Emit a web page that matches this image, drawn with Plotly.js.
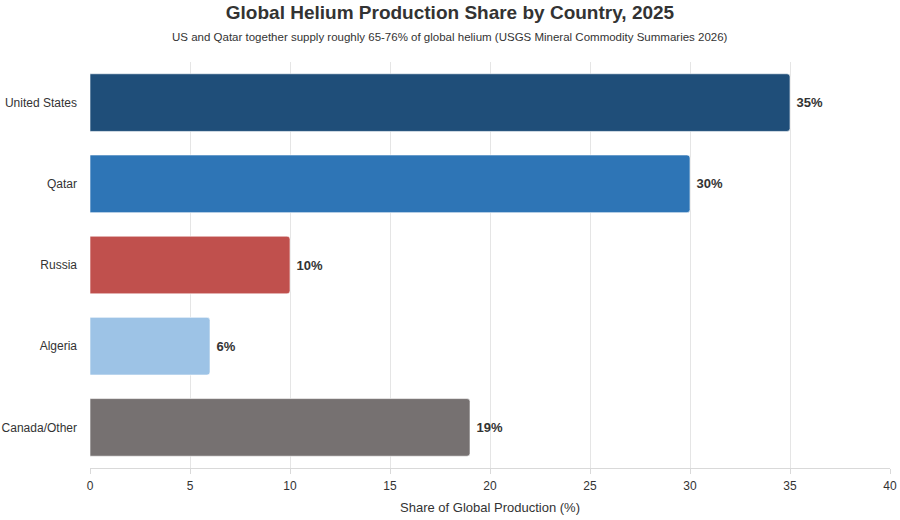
<!DOCTYPE html>
<html>
<head>
<meta charset="utf-8">
<script src="https://cdn.plot.ly/plotly-3.0.1.min.js"></script>
<style>
  html, body { margin: 0; padding: 0; background: #fff; }
  #chart { width: 900px; height: 520px; }
</style>
</head>
<body>
<div id="chart"></div>
<script>
// share of global helium production, percent
var countries = ["United States", "Qatar", "Russia", "Algeria", "Canada/Other"];
var shares = [35, 30, 10, 6, 19];
var barColors = ["#1f4e79", "#2e75b6", "#c0504d", "#9dc3e6", "#767171"];

var labels = [];
for (var i = 0; i < shares.length; i++) {
    labels.push("\u00a0" + shares[i] + "%");
}

var trace = {
    type: "bar",
    orientation: "h",
    x: shares,
    y: countries,
    text: labels,
    textposition: "outside",
    cliponaxis: false,
    textfont: { family: "Liberation Sans, Arial, sans-serif", size: 13, color: "#333333", weight: "bold" },
    marker: {
        color: barColors,
        line: { color: "rgba(255,255,255,0.6)", width: 1 }
    },
    hoverinfo: "none"
};

var layout = {
    width: 900,
    height: 520,
    margin: { l: 90, r: 10, t: 62, b: 52 },
    paper_bgcolor: "#ffffff",
    plot_bgcolor: "#ffffff",
    font: { family: "Liberation Sans, Arial, sans-serif", color: "#333333", size: 12 },
    showlegend: false,
    bargap: 0.29,
    barcornerradius: 3,
    title: {
        text: "<b>Global Helium Production Share by Country, 2025</b>",
        x: 0.5,
        xanchor: "center",
        y: 0.977,
        yanchor: "middle",
        font: { size: 19, color: "#333333" }
    },
    annotations: [{
        text: "US and Qatar together supply roughly 65-76% of global helium (USGS Mineral Commodity Summaries 2026)",
        xref: "paper",
        yref: "paper",
        x: 0.45,
        xanchor: "center",
        y: 1.0616,
        yanchor: "middle",
        showarrow: false,
        font: { size: 11.5, color: "#333333" }
    }],
    xaxis: {
        range: [0, 40],
        dtick: 5,
        tick0: 0,
        showgrid: true,
        gridcolor: "#e5e5e5",
        zeroline: false,
        showline: true,
        linecolor: "#d9d9d9",
        ticks: "outside",
        ticklen: 5,
        tickcolor: "#d9d9d9",
        ticklabelstandoff: 2,
        tickfont: { size: 12, color: "#333333" },
        title: {
            text: "Share of Global Production (%)",
            font: { size: 13, color: "#333333" },
            standoff: 10
        }
    },
    yaxis: {
        autorange: "reversed",
        showgrid: false,
        zeroline: false,
        showline: false,
        ticks: "",
        ticklabelstandoff: 12,
        tickfont: { size: 12, color: "#333333" }
    }
};

Plotly.newPlot("chart", [trace], layout, { displayModeBar: false, staticPlot: true });
</script>
</body>
</html>
